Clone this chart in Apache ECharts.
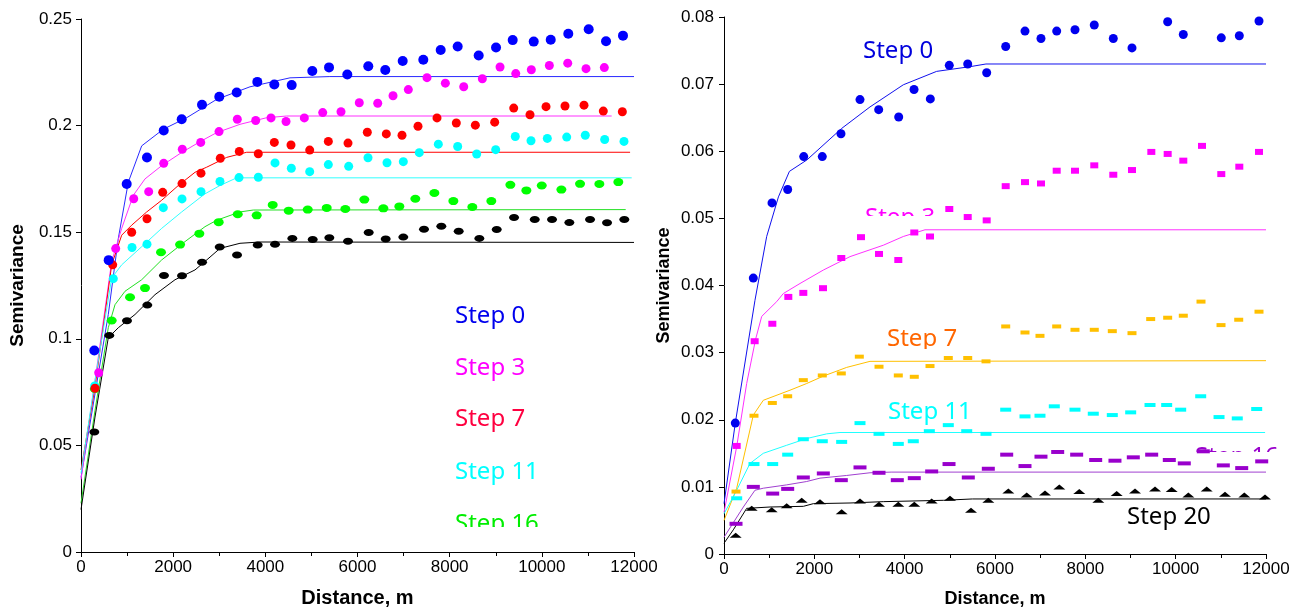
<!DOCTYPE html>
<html>
<head>
<meta charset="utf-8">
<script src="https://cdn.jsdelivr.net/npm/echarts@6/dist/echarts.min.js"></script>
<style>
html,body{margin:0;padding:0;background:#fff;}
#chart{width:1299px;height:613px;}
</style>
</head>
<body>
<div id="chart"></div>
<script>
// ---------- Left panel: observed semivariance (distance m, value) ----------
const L_obs0 = [[289,0.0945],[601,0.1369],[992,0.1726],[1432,0.185],[1795,0.1977],[2185,0.203],[2626,0.2098],[3001,0.2135],[3379,0.2155],[3826,0.2205],[4195,0.2193],[4572,0.219],[5019,0.2256],[5382,0.2273],[5779,0.224],[6234,0.2278],[6603,0.2261],[6981,0.2303],[7428,0.2309],[7805,0.2355],[8174,0.2371],[8630,0.2329],[9006,0.2366],[9368,0.2401],[9824,0.2394],[10193,0.2403],[10574,0.2431],[11017,0.2452],[11393,0.2396],[11761,0.2422]];
const L_obs3 = [[384,0.0841],[753,0.1423],[1144,0.1657],[1469,0.169],[1795,0.1823],[2198,0.1889],[2598,0.1921],[2995,0.1972],[3392,0.203],[3791,0.2024],[4123,0.2036],[4449,0.2019],[4846,0.2036],[5245,0.2061],[5642,0.2065],[6039,0.2107],[6439,0.2105],[6771,0.214],[7103,0.2169],[7508,0.2225],[7906,0.2199],[8305,0.2182],[8709,0.222],[9093,0.2275],[9434,0.2244],[9772,0.2262],[10163,0.2282],[10562,0.2293],[10959,0.2267],[11356,0.2272]];
const L_obs7 = [[304,0.0768],[688,0.1347],[1100,0.15],[1432,0.1563],[1773,0.1687],[2192,0.1728],[2604,0.1777],[3023,0.1847],[3435,0.1879],[3847,0.1868],[4195,0.1921],[4557,0.1909],[4963,0.1885],[5367,0.1926],[5794,0.1918],[6213,0.1969],[6625,0.1961],[6966,0.1955],[7313,0.1997],[7725,0.2036],[8144,0.2012],[8557,0.2002],[8977,0.2016],[9390,0.2082],[9743,0.2051],[10091,0.2089],[10503,0.2092],[10915,0.2096],[11334,0.2068],[11747,0.2065]];
const L_obs11 = [[297,0.0779],[701,0.1282],[1107,0.1428],[1432,0.1444],[1786,0.1615],[2192,0.1656],[2604,0.169],[3016,0.1738],[3429,0.1756],[3848,0.1758],[4210,0.1825],[4564,0.18],[4963,0.1784],[5367,0.1817],[5809,0.1809],[6228,0.1849],[6640,0.1826],[6994,0.1831],[7341,0.1873],[7754,0.1913],[8174,0.1902],[8587,0.1867],[8999,0.1887],[9424,0.1949],[9765,0.1929],[10119,0.194],[10540,0.1946],[10943,0.1955],[11364,0.1935],[11783,0.1926]];
const L_obs16 = [[300,0.0765],[666,0.1086],[1064,0.1195],[1389,0.1238],[1736,0.1406],[2150,0.1442],[2568,0.1493],[2988,0.1547],[3401,0.1584],[3813,0.1579],[4160,0.1628],[4507,0.1601],[4920,0.1606],[5332,0.1614],[5736,0.1609],[6148,0.1653],[6561,0.1612],[6908,0.1621],[7255,0.1657],[7668,0.1684],[8080,0.1646],[8492,0.1618],[8904,0.1646],[9317,0.1722],[9664,0.1696],[9998,0.1719],[10424,0.17],[10829,0.1727],[11248,0.1726],[11660,0.1735]];
const L_obs20 = [[289,0.0563],[614,0.1016],[998,0.1085],[1439,0.1158],[1801,0.1297],[2192,0.1296],[2626,0.1359],[3010,0.1431],[3386,0.1393],[3834,0.144],[4210,0.1443],[4586,0.1471],[5028,0.1466],[5389,0.1474],[5794,0.1458],[6243,0.1499],[6612,0.1468],[6994,0.1477],[7443,0.1514],[7819,0.1528],[8196,0.1504],[8644,0.1471],[9021,0.1513],[9397,0.1569],[9846,0.156],[10221,0.156],[10597,0.1545],[11046,0.156],[11415,0.1544],[11790,0.156]];

// ---------- Left panel: fitted model curves ----------
const L_fit0 = [[0,0.035],[304,0.0742],[592,0.1114],[810,0.1471],[1027,0.1735],[1317,0.1905],[1786,0.1983],[2294,0.2037],[2944,0.2123],[3667,0.2182],[4535,0.2224],[5400,0.223],[12000,0.223]];
const L_fit3 = [[0,0.034],[304,0.0804],[666,0.1363],[883,0.1518],[1135,0.1673],[1389,0.175],[1751,0.1812],[2185,0.1874],[2619,0.1929],[2944,0.1967],[3450,0.2006],[4030,0.2037],[4463,0.2045],[11515,0.2045]];
const L_fit7 = [[0,0.0385],[304,0.0773],[666,0.1347],[883,0.1486],[1100,0.1533],[1426,0.1595],[1751,0.165],[2112,0.1719],[2474,0.1781],[2728,0.1805],[3162,0.1851],[3596,0.1875],[11915,0.1875]];
const L_fit11 = [[0,0.0369],[304,0.0804],[666,0.1285],[883,0.1347],[1317,0.1432],[1751,0.1518],[2185,0.1595],[2691,0.168],[3016,0.1719],[3379,0.1755],[11950,0.1755]];
const L_fit16 = [[0,0.0229],[304,0.0664],[592,0.1052],[738,0.116],[955,0.1223],[1317,0.1277],[1751,0.137],[2257,0.1456],[2691,0.1526],[2944,0.1556],[3450,0.1595],[3739,0.1604],[11820,0.1606]];
const L_fit20 = [[0,0.0199],[304,0.0633],[592,0.1005],[810,0.1052],[1172,0.1114],[1606,0.1207],[2040,0.1277],[2474,0.1323],[2691,0.1363],[3016,0.1424],[3450,0.1448],[3884,0.1454],[12000,0.1452]];

// ---------- Right panel: observed semivariance ----------
const R_obs0 = [[250,0.0195],[649,0.0411],[1063,0.0523],[1410,0.0543],[1765,0.0592],[2176,0.0592],[2590,0.0626],[3011,0.0677],[3425,0.0662],[3868,0.0651],[4207,0.0692],[4568,0.0678],[4988,0.0728],[5396,0.073],[5816,0.0717],[6237,0.0756],[6664,0.0779],[7018,0.0768],[7366,0.0779],[7771,0.0781],[8198,0.0788],[8619,0.0768],[9033,0.0754],[9461,0.0807],[9823,0.0793],[10169,0.0774],[10583,0.0809],[11010,0.0769],[11409,0.0772],[11845,0.0794]];
const R_obs3 = [[281,0.0161],[679,0.0317],[1070,0.0343],[1424,0.0383],[1756,0.0389],[2192,0.0396],[2597,0.0441],[3033,0.0472],[3432,0.0447],[3859,0.0438],[4213,0.0479],[4561,0.0473],[4988,0.0514],[5396,0.0502],[5816,0.0497],[6237,0.0548],[6664,0.0554],[7018,0.0552],[7366,0.0571],[7771,0.0571],[8198,0.0579],[8619,0.0565],[9033,0.0572],[9461,0.0599],[9823,0.0596],[10169,0.0586],[10583,0.0608],[11010,0.0566],[11409,0.0577],[11845,0.0599]];
const R_obs7 = [[266,0.0093],[664,0.0206],[1070,0.0225],[1410,0.0235],[1756,0.0259],[2176,0.0266],[2597,0.0269],[2996,0.0294],[3432,0.0279],[3859,0.0266],[4213,0.0264],[4561,0.028],[4966,0.0292],[5396,0.0292],[5801,0.0287],[6237,0.0339],[6664,0.033],[6996,0.0325],[7366,0.0339],[7771,0.0334],[8198,0.0334],[8597,0.0332],[9033,0.0329],[9447,0.035],[9823,0.0352],[10169,0.0355],[10561,0.0376],[11004,0.0341],[11396,0.0349],[11845,0.0361]];
const R_obs11 = [[281,0.0083],[664,0.0134],[1078,0.0134],[1410,0.0148],[1756,0.0171],[2176,0.0168],[2605,0.0167],[3011,0.0195],[3432,0.0179],[3859,0.0164],[4191,0.0168],[4546,0.0183],[4966,0.0192],[5374,0.0183],[5801,0.0179],[6237,0.0215],[6664,0.0205],[6996,0.0206],[7313,0.022],[7771,0.0215],[8176,0.0209],[8597,0.0207],[9004,0.0211],[9432,0.0222],[9801,0.0222],[10111,0.0215],[10554,0.0235],[10960,0.0204],[11364,0.0202],[11794,0.0216]];
const R_obs16 = [[266,0.0045],[649,0.01],[1078,0.009],[1410,0.0097],[1756,0.0114],[2199,0.012],[2597,0.011],[3011,0.0129],[3432,0.0121],[3837,0.011],[4213,0.0113],[4598,0.0123],[4982,0.0134],[5409,0.0114],[5852,0.0127],[6259,0.0148],[6664,0.0131],[7018,0.0145],[7388,0.0152],[7808,0.0148],[8229,0.014],[8656,0.0139],[9062,0.0144],[9469,0.0148],[9859,0.014],[10191,0.0135],[10612,0.0153],[11055,0.0132],[11462,0.0128],[11905,0.0138]];
const R_obs20 = [[259,0.0028],[613,0.0068],[1056,0.0066],[1388,0.0072],[1720,0.008],[2125,0.0078],[2605,0.0063],[3011,0.0079],[3432,0.0074],[3859,0.0074],[4213,0.0074],[4598,0.0079],[5004,0.0083],[5469,0.0065],[5852,0.008],[6295,0.0094],[6702,0.0088],[7107,0.0091],[7424,0.01],[7866,0.0093],[8287,0.008],[8694,0.009],[9100,0.0094],[9543,0.0097],[9912,0.0096],[10281,0.0088],[10687,0.0097],[11092,0.0089],[11520,0.0088],[11978,0.0085]];

// ---------- Right panel: fitted model curves ----------
const R_fit0 = [[0,0.0075],[250,0.0195],[686,0.0378],[945,0.0473],[1205,0.0532],[1448,0.057],[1834,0.0587],[2605,0.0634],[3232,0.0666],[3970,0.0699],[4708,0.0719],[5446,0.0726],[5800,0.073],[12000,0.073]];
const R_fit3 = [[0,0.0062],[281,0.016],[502,0.0254],[700,0.032],[835,0.0354],[1167,0.0376],[1313,0.0388],[1683,0.0403],[2199,0.0423],[2790,0.0443],[3527,0.046],[3970,0.0473],[4450,0.0483],[12000,0.0483]];
const R_fit7 = [[0,0.005],[281,0.0098],[649,0.0207],[870,0.0229],[1461,0.0244],[1831,0.0254],[2199,0.0265],[2716,0.0278],[3232,0.0287],[12000,0.0288]];
const R_fit11 = [[0,0.006],[244,0.009],[576,0.0135],[870,0.015],[1388,0.0162],[1831,0.0172],[2274,0.0179],[2568,0.0181],[11980,0.0181]];
const R_fit16 = [[0,0.0025],[428,0.007],[686,0.0095],[870,0.0098],[1388,0.0103],[1831,0.0108],[2125,0.0113],[2716,0.0117],[3232,0.0121],[3700,0.0122],[12000,0.0122]];
const R_fit20 = [[0,0.0016],[206,0.0036],[502,0.0068],[1018,0.007],[1756,0.0071],[1978,0.0075],[2790,0.0076],[3527,0.0078],[4855,0.008],[5500,0.0082],[12000,0.0082]];

// ---------- labels ----------
const stepNames = ["Step 0","Step 3","Step 7","Step 11","Step 16","Step 20"];
const xTitle = "Distance, m";
const yTitle = "Semivariance";

const AX = "Liberation Sans, Arial, sans-serif";
const LBL = "Noto Sans, Open Sans, sans-serif";

function xAxisCfg(gi){
  return {
    gridIndex: gi, type:'value', min:0, max:12000, interval:2000,
    name: xTitle, nameLocation:'middle', nameGap: gi===0?36:36,
    nameTextStyle:{fontFamily:AX, fontWeight:'bold', fontSize: gi===0?20:18, color:'#000'},
    axisLine:{show:true, onZero:false, lineStyle:{color:'#000', width:1}},
    axisTick:{show:true, length:5, lineStyle:{color:'#000'}},
    minorTick:{show:true, splitNumber:2, length:4, lineStyle:{color:'#000'}},
    splitLine:{show:false},
    axisLabel:{fontFamily:AX, fontSize:17, color:'#000', margin:7, formatter: v => String(v)}
  };
}
function yAxisCfg(gi, max, interval){
  return {
    gridIndex: gi, type:'value', min:0, max:max, interval:interval,
    name: yTitle, nameLocation:'middle', nameRotate:90, nameGap: gi===0?54:51,
    nameTextStyle:{fontFamily:AX, fontWeight:'bold', fontSize: gi===0?19:18, color:'#000'},
    axisLine:{show:true, onZero:false, lineStyle:{color:'#000', width:1}},
    axisTick:{show:true, length:5, lineStyle:{color:'#000'}},
    splitLine:{show:false},
    axisLabel:{fontFamily:AX, fontSize:17, color:'#000', margin: gi===0?9:10}
  };
}

function scat(gi, data, color, symbol, size){
  return {type:'scatter', xAxisIndex:gi, yAxisIndex:gi, data:data, symbol:symbol, symbolSize:size,
    itemStyle:{color:color, opacity:1}, z:3, silent:true};
}
function fit(gi, data, color){
  return {type:'line', xAxisIndex:gi, yAxisIndex:gi, data:data, showSymbol:false, symbol:'none',
    lineStyle:{color:color, width:1}, z:3, silent:true, smooth:false};
}

function txt(x, y, s, color){
  return {type:'text', x:x, y:y, z:1, silent:true,
    style:{text:s, fill:color, font:'24px ' + LBL, textAlign:'left', textVerticalAlign:'middle'}};
}
function cover(x, y, w, h){
  return {type:'rect', z:2, silent:true, shape:{x:x, y:y, width:w, height:h}, style:{fill:'#ffffff'}};
}

const chart = echarts.init(document.getElementById('chart'), null, {renderer:'canvas'});
chart.setOption({
  animation:false,
  backgroundColor:'#fff',
  grid:[
    {left:81, top:19, width:553, height:537},
    {left:724, top:17, width:542, height:537}
  ],
  xAxis:[xAxisCfg(0), xAxisCfg(1)],
  yAxis:[yAxisCfg(0, 0.25, 0.05), yAxisCfg(1, 0.08, 0.01)],
  series:[
    fit(0, L_fit0, '#2a2aff'), fit(0, L_fit3, '#ff30ff'), fit(0, L_fit7, '#ff0000'),
    fit(0, L_fit11, '#30ffff'), fit(0, L_fit16, '#22e022'), fit(0, L_fit20, '#000000'),
    scat(0, L_obs20, '#000000', 'circle', [10,7]),
    scat(0, L_obs16, '#00ff00', 'circle', [10,8]),
    scat(0, L_obs11, '#00ffff', 'circle', 9),
    scat(0, L_obs7, '#ff0000', 'circle', 9),
    scat(0, L_obs3, '#ff00ff', 'circle', 9),
    scat(0, L_obs0, '#0000ff', 'circle', 10),

    fit(1, R_fit0, '#1010ee'), fit(1, R_fit3, '#ff30ff'), fit(1, R_fit7, '#ffc000'),
    fit(1, R_fit11, '#20ffff'), fit(1, R_fit16, '#a040d0'), fit(1, R_fit20, '#000000'),
    scat(1, R_obs20, '#000000', 'triangle', [12,5]),
    scat(1, R_obs16, '#9900cc', 'rect', [13,4]),
    scat(1, R_obs11, '#00ffff', 'rect', [11,4]),
    scat(1, R_obs7, '#ffc000', 'rect', [9,4]),
    scat(1, R_obs3, '#ff00ff', 'rect', [8,6]),
    scat(1, R_obs0, '#0000ee', 'circle', 9)
  ],
  graphic:[
    txt(455, 316, stepNames[0], '#0000ee'),
    txt(455, 368, stepNames[1], '#ff00ff'),
    txt(455, 419, stepNames[2], '#ff0040'),
    txt(455, 472, stepNames[3], '#00ffff'),
    txt(455, 524, stepNames[4], '#00ee00'),
    cover(450, 527, 120, 20),

    txt(863, 51, stepNames[0], '#0000dd'),
    txt(865, 218, stepNames[1], '#ff00ff'),
    cover(858, 216, 110, 18),
    txt(887, 339, stepNames[2], '#ff6600'),
    cover(880, 349, 100, 10),
    txt(888, 412, stepNames[3], '#00ffff'),
    txt(1195, 457, stepNames[4], '#9900cc'),
    cover(1190, 452, 109, 20),
    txt(1127, 517, stepNames[5], '#000000')
  ]
});
</script>
</body>
</html>
